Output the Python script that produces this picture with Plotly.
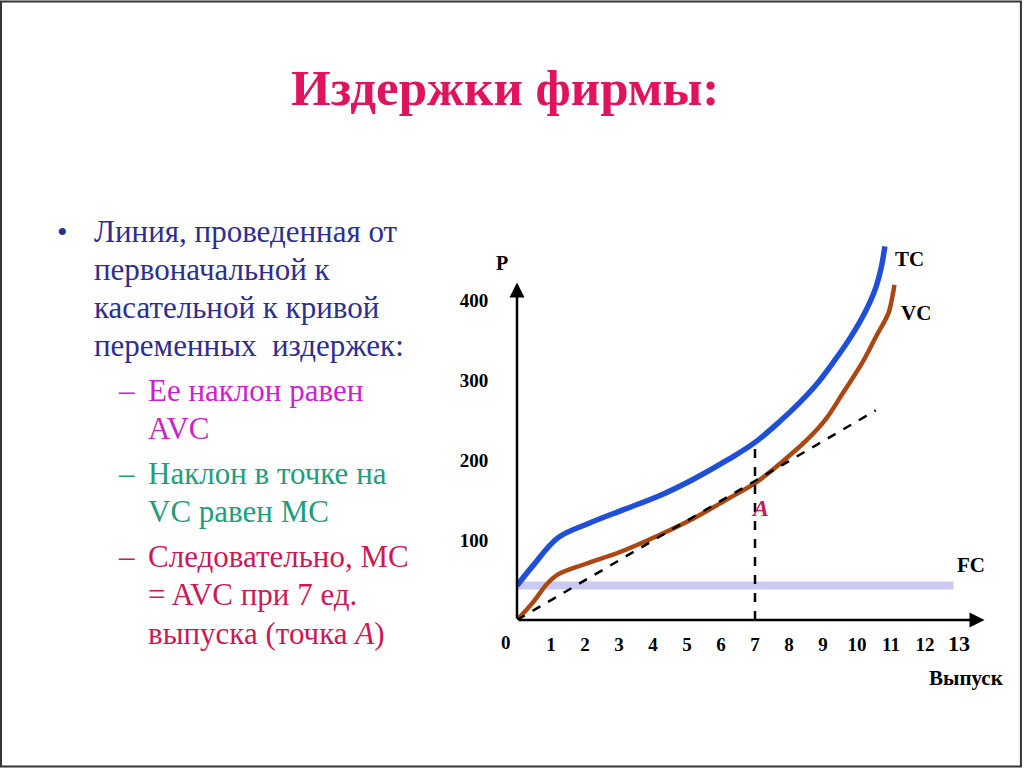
import plotly.graph_objects as go

# --- data (output in units, cost in P units) ---
tc_x = [0, 0.47, 1.21, 2.12, 3.14, 4.17, 5.19, 6.23, 7.0, 7.75, 8.32, 8.78, 9.30, 9.79, 10.24, 10.54, 10.71, 10.82]
tc_y = [43, 68, 103, 121, 138, 155, 176, 201, 222, 249, 272, 293, 322, 352, 385, 414, 440, 467]

vc_x = [0, 0.47, 0.88, 1.21, 2.01, 3.03, 4.17, 5.19, 6.23, 7.0, 7.75, 8.55, 9.10, 9.59, 10.16, 10.58, 10.92, 11.04, 11.10]
vc_y = [0, 22, 45, 57, 70, 85, 106, 127, 152, 171, 196, 226, 252, 284, 322, 356, 383, 404, 419]

fc_x = [0, 12.84]
fc_y = [43, 43]

ray_x = [0, 10.55]
ray_y = [0, 262]

point_a = (7, 171)  # MC = AVC
a_top = 222         # where the vertical dashed line meets TC

x_tick_labels = ["0", "1", "2", "3", "4", "5", "6", "7", "8", "9", "10", "11", "12", "13"]
y_tick_labels = ["100", "200", "300", "400"]

title = "Издержки фирмы:"
bullet_lines = ["Линия, проведенная от", "первоначальной к",
                "касательной к кривой", "переменных  издержек:"]
sub_items = [
    (["Ее наклон равен", "AVC"], "#CC22CC"),
    (["Наклон в точке на", "VC равен МС"], "#1E9E7A"),
    (["Следовательно, МС", "= AVC при 7 ед.", "выпуска (точка <i>A</i>)"], "#CC1855"),
]

W, H = 1024, 768
SERIF = "Liberation Serif, Times New Roman, serif"


def px(x, y):
    return x / W, 1 - y / H


fig = go.Figure()

fig.add_trace(go.Scatter(x=fc_x, y=fc_y, mode="lines",
                         line=dict(color="#C9C9F2", width=8), hoverinfo="skip"))
fig.add_trace(go.Scatter(x=vc_x, y=vc_y, mode="lines", line_shape="spline",
                         line=dict(color="#AA4712", width=4.5), hoverinfo="skip"))
fig.add_trace(go.Scatter(x=tc_x, y=tc_y, mode="lines", line_shape="spline",
                         line=dict(color="#1F4FD6", width=5.5), hoverinfo="skip"))
fig.add_trace(go.Scatter(x=ray_x, y=ray_y, mode="lines",
                         line=dict(color="black", width=2.5, dash="dash"), hoverinfo="skip"))
fig.add_trace(go.Scatter(x=[point_a[0], point_a[0]], y=[0, a_top], mode="lines",
                         line=dict(color="black", width=2.5, dash="dash"), hoverinfo="skip"))

# axes drawn as arrows
fig.add_annotation(x=13.75, y=0, ax=0, ay=0, xref="x", yref="y", axref="x", ayref="y",
                   showarrow=True, arrowhead=2, arrowsize=1.2, arrowwidth=2.5, arrowcolor="black", text="")
fig.add_annotation(x=0, y=422, ax=0, ay=0, xref="x", yref="y", axref="x", ayref="y",
                   showarrow=True, arrowhead=2, arrowsize=1.2, arrowwidth=2.5, arrowcolor="black", text="")

annos = []


def label(text, x, y, size, color="black", anchor="center", bold=True):
    xx, yy = px(x, y)
    annos.append(dict(text=f"<b>{text}</b>" if bold else text, x=xx, y=yy,
                      xref="paper", yref="paper", showarrow=False,
                      xanchor=anchor, yanchor="middle",
                      font=dict(family=SERIF, size=size, color=color)))


label(title, 505, 88, 51, "#E0135F")
label("•", 62, 232, 30, "#2E2E8F", bold=False)
for i, line in enumerate(bullet_lines):
    label(line, 92, 232 + i * 37.7, 31, "#2E2E8F", anchor="left", bold=False)

y = 390
for lines, color in sub_items:
    label("–", 126, y, 31, color, bold=False)
    for line in lines:
        label(line, 146, y, 31, color, anchor="left", bold=False)
        y += 38.5
    y += 6

label("P", 502, 263, 20)
label("0", 506, 642, 19)
label("TC", 909, 259, 21)
label("VC", 916, 313, 21)
label("FC", 971, 565, 21)
label("Выпуск", 966, 678, 21)
label("<i>A</i>", 760, 508, 24, "#CC1855")

x_text = [f"<b>{t}</b>" for t in x_tick_labels[1:-1]]
x_text.append(f"<b><span style='font-size:22px'>{x_tick_labels[-1]}</span></b>")
y_text = [f"<b>{t}</b>" for t in y_tick_labels]

fig.update_layout(
    width=W, height=H,
    margin=dict(l=0, r=0, t=0, b=0),
    paper_bgcolor="white", plot_bgcolor="white",
    showlegend=False,
    annotations=list(fig.layout.annotations) + annos,
    shapes=[dict(type="rect", xref="paper", yref="paper", x0=0.001, y0=0.002, x1=0.997, y1=0.998,
                 line=dict(color="#333333", width=2))],
    xaxis=dict(domain=[517 / W, 1010 / W], range=[0, 14.5],
               tickvals=list(range(1, 14)), ticktext=x_text,
               ticks="outside", ticklen=7, tickcolor="rgba(0,0,0,0)",
               tickfont=dict(family=SERIF, size=19, color="black", weight="bold"),
               showgrid=False, zeroline=False, showline=False),
    yaxis=dict(domain=[1 - 620 / H, 1 - 236 / H], range=[0, 480],
               tickvals=[100, 200, 300, 400], ticktext=y_text,
               ticks="outside", ticklen=24, tickcolor="rgba(0,0,0,0)",
               tickfont=dict(family=SERIF, size=19, color="black", weight="bold"),
               showgrid=False, zeroline=False, showline=False),
)

fig.write_html("out.html", config={"displayModeBar": False},
               post_script="document.body.style.margin='0';")
